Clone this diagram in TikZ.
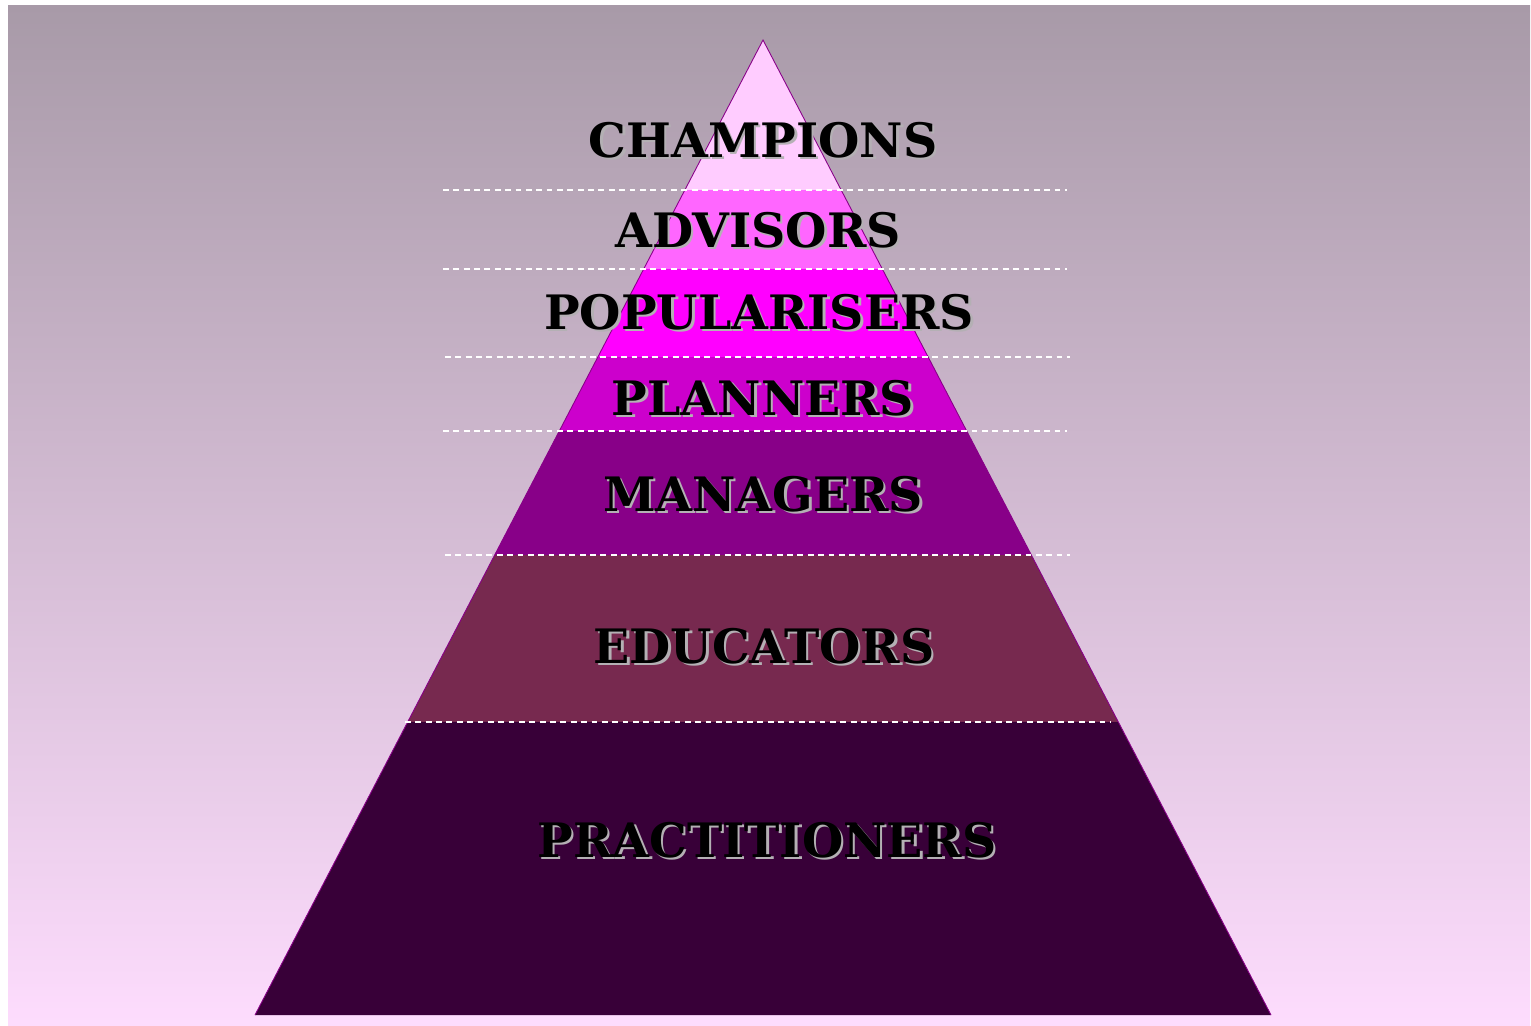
\documentclass[tikz,border=0pt]{standalone}
\usepackage{fontspec}
\setmainfont{DejaVu Serif}
\usetikzlibrary{positioning}
\definecolor{bgtop}{HTML}{A89AA8}
\definecolor{bgbottom}{HTML}{FDDCFD}
\definecolor{champ}{HTML}{FFCCFF}
\definecolor{advis}{HTML}{FF66FF}
\definecolor{popul}{HTML}{FF00FF}
\definecolor{plann}{HTML}{CC00CC}
\definecolor{manag}{HTML}{880088}
\definecolor{educa}{HTML}{77294F}
\definecolor{pract}{HTML}{380038}
\definecolor{rim}{HTML}{880088}
\definecolor{dropgray}{HTML}{B4B0B4}
\tikzset{
  tierlabel/.style={font=\fontsize{27}{33}\selectfont\bfseries,inner sep=0pt},
  tiershadow/.style={tierlabel,text=dropgray},
  divider/.style={white,line width=1.1pt,dash pattern=on 3.3pt off 2.6pt},
}
\begin{document}
\begin{tikzpicture}[x=0.02cm,y=-0.02cm]
\useasboundingbox (0,0) rectangle (1531,1025);
\shade[top color=bgtop,bottom color=bgbottom] (8,5) rectangle (1530,1025);
% layers of the pyramid, top to bottom
\foreach \ytop/\ybot/\col in {40/190/champ,190/269/advis,269/357/popul,357/431/plann,431/555/manag,555/722/educa,722/1015/pract}{
  \pgfmathsetmacro\wt{(\ytop-40)*0.52103}
  \pgfmathsetmacro\wb{(\ybot-40)*0.52103}
  \fill[\col] (763-\wt,\ytop) -- (763+\wt,\ytop) -- (763+\wb,\ybot) -- (763-\wb,\ybot) -- cycle;
}
\draw[rim,line width=0.5pt] (255,1015) -- (763,40) -- (1271,1015);
%
\draw[divider] (443,190) -- (1067,190);
\draw[divider] (443,269) -- (1067,269);
\draw[divider] (445,357) -- (1070,357);
\draw[divider] (443,431) -- (1067,431);
\draw[divider] (445,555) -- (1070,555);
\draw[divider] (405,722) -- (1110,722);
%
\foreach \name/\xx/\yy/\txt in {champions/763/140/CHAMPIONS,advisors/758/230/ADVISORS,popularisers/759/312/POPULARISERS,planners/763/398/PLANNERS,managers/763/494/MANAGERS,educators/764/646/EDUCATORS,practitioners/767/840/PRACTITIONERS}{
  \node (\name-shadow) [tiershadow] at (\xx+2.5,\yy+2.5) {\txt};
  \node (\name) [tierlabel] at (\xx,\yy) {\txt};
}
\end{tikzpicture}
\end{document}
